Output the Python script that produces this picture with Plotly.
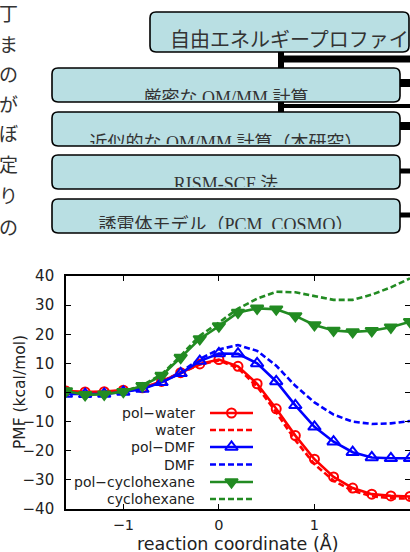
import plotly.graph_objects as go

# ---------------- data ----------------
x_coord = [-1.6, -1.4, -1.2, -1.0, -0.8, -0.6, -0.4, -0.2, 0.0, 0.2,
           0.4, 0.6, 0.8, 1.0, 1.2, 1.4, 1.6, 1.8, 2.0]
pol_water = [0.5, 0.2, 0.3, 0.8, 1.6, 3.8, 6.8, 9.8, 11.3, 9.0,
             3.0, -5.6, -14.8, -22.9, -29.0, -32.8, -34.9, -35.5, -35.7]
water = [0.3, 0.0, 0.2, 0.6, 1.4, 3.6, 6.6, 9.6, 11.0, 8.4,
         2.0, -6.8, -16.4, -24.6, -30.3, -33.7, -35.6, -36.3, -36.4]
pol_dmf = [-0.5, -0.6, -0.5, 0.2, 1.2, 3.5, 6.6, 10.8, 13.4, 13.3,
           10.0, 3.8, -4.4, -11.8, -16.9, -20.5, -22.3, -22.6, -22.6]
dmf = [-0.3, -0.4, -0.3, 0.3, 1.4, 3.7, 7.0, 11.5, 14.8, 16.3,
       14.3, 9.2, 2.3, -3.4, -7.6, -10.0, -10.8, -10.6, -9.8]
pol_cyclohexane = [0.5, -0.8, -0.6, 0.3, 2.3, 5.8, 12.0, 18.4, 22.8, 27.5,
                   28.9, 28.6, 26.3, 23.2, 21.3, 20.8, 21.2, 22.4, 24.3]
cyclohexane = [0.3, -0.5, -0.4, 0.4, 2.5, 6.2, 12.6, 19.5, 24.0, 28.8,
               32.2, 34.6, 34.4, 33.0, 31.8, 31.8, 33.6, 36.1, 39.2]

series_names = ["pol\u2212water", "water", "pol\u2212DMF", "DMF",
                "pol\u2212cyclohexane", "cyclohexane"]
y_ticks = [-40, -30, -20, -10, 0, 10, 20, 30, 40]
x_ticks = [-1, 0, 1, 2]

x_title = "reaction coordinate (Å)"
y_title = "PMF (kcal/mol)"

box_labels = ["自由エネルギープロファイ",
              "厳密な QM/MM 計算",
              "近似的な QM/MM 計算（本研究）",
              "RISM-SCF 法",
              "誘電体モデル（PCM, COSMO）"]
side_chars = ["丁", "ま", "の", "が", "ぼ", "定", "り", "の"]

# ---------------- styling / layout ----------------
W, H = 410, 552
RED, BLUE, GREEN = "rgb(255,0,0)", "rgb(0,0,255)", "rgb(34,139,34)"
BOXFILL = "#b9dfe3"
DASH = "6px,3px"
LW = 2.6
TXT = "#222222"
SANS = "DejaVu Sans, sans-serif"
JP = "Liberation Serif, Noto Sans CJK JP, serif"

styles = [
    dict(color=RED, dash="solid", symbol="circle-open", size=9),
    dict(color=RED, dash=DASH, symbol=None, size=0),
    dict(color=BLUE, dash="solid", symbol="triangle-up-open", size=11),
    dict(color=BLUE, dash=DASH, symbol=None, size=0),
    dict(color=GREEN, dash="solid", symbol="triangle-down", size=11),
    dict(color=GREEN, dash=DASH, symbol=None, size=0),
]
series = [pol_water, water, pol_dmf, dmf, pol_cyclohexane, cyclohexane]

fig = go.Figure()

# main data (dashed first, then solid on top)
order = [1, 3, 5, 0, 2, 4]
for i in order:
    st = styles[i]
    if st["symbol"]:
        fig.add_trace(go.Scatter(
            x=x_coord, y=series[i], mode="lines+markers", name=series_names[i],
            line=dict(color=st["color"], width=LW, dash=st["dash"]),
            marker=dict(symbol=st["symbol"], size=st["size"], color=st["color"],
                        line=dict(color=st["color"], width=2)),
            showlegend=False, xaxis="x", yaxis="y"))
    else:
        fig.add_trace(go.Scatter(
            x=x_coord, y=series[i], mode="lines", name=series_names[i],
            line=dict(color=st["color"], width=LW, dash=st["dash"]),
            showlegend=False, xaxis="x", yaxis="y"))

# helper trace so the right-side tick axis is drawn
fig.add_trace(go.Scatter(x=[None], y=[None], xaxis="x", yaxis="y3",
                         showlegend=False, hoverinfo="skip"))

# ---- custom legend (text left, key on right) in pixel overlay axes ----
leg_y = [413, 430, 447, 464.5, 482, 499]
leg_x0, leg_x1, leg_text_x = 210, 253, 197
annotations = []
for i, name in enumerate(series_names):
    st = styles[i]
    fig.add_trace(go.Scatter(
        x=[leg_x0, leg_x1], y=[leg_y[i], leg_y[i]], mode="lines",
        line=dict(color=st["color"], width=LW, dash=st["dash"]),
        showlegend=False, hoverinfo="skip", xaxis="x2", yaxis="y2",
        cliponaxis=False))
    if st["symbol"]:
        fig.add_trace(go.Scatter(
            x=[(leg_x0 + leg_x1) / 2], y=[leg_y[i]], mode="markers",
            marker=dict(symbol=st["symbol"], size=st["size"], color=st["color"],
                        line=dict(color=st["color"], width=2)),
            showlegend=False, hoverinfo="skip", xaxis="x2", yaxis="y2",
            cliponaxis=False))
    annotations.append(dict(
        x=leg_text_x / W, y=1 - leg_y[i] / H, xref="paper", yref="paper",
        text=name, showarrow=False, xanchor="right", yanchor="middle",
        font=dict(family=SANS, size=14, color=TXT)))

# ---- diagram boxes ----
boxes = [(150, 12, 409, 52), (52, 68, 400, 102), (52, 112, 400, 146),
         (52, 155, 400, 189), (52, 199, 400, 233)]
text_pos = [(170, 42, "middle right"), (226, 99, "middle center"),
            (226, 144, "middle center"), (226, 185, "middle center"),
            (226, 226, "middle center")]
clip_y = [None, 100, 144, 187, 229]
next_top = [None, 112, 155, 199, 246]
R = 6


def rrect(x0, y0, x1, y1, r):
    return (f"M {x0+r},{y0} L {x1-r},{y0} Q {x1},{y0} {x1},{y0+r} "
            f"L {x1},{y1-r} Q {x1},{y1} {x1-r},{y1} L {x0+r},{y1} "
            f"Q {x0},{y1} {x0},{y1-r} L {x0},{y0+r} Q {x0},{y0} {x0+r},{y0} Z")


shapes = []
for b in boxes:
    shapes.append(dict(type="path", path=rrect(*b, R), xref="x2", yref="y2",
                       fillcolor=BOXFILL, line=dict(width=0), layer="below"))

for i, lab in enumerate(box_labels):
    tx, ty, tp = text_pos[i]
    fig.add_trace(go.Scatter(
        x=[tx], y=[ty], mode="text", text=[lab], textposition=tp,
        textfont=dict(family=JP, size=20 if i == 0 else 18, color="#333333"),
        showlegend=False, hoverinfo="skip", xaxis="x2", yaxis="y2",
        cliponaxis=False))

# clipping covers
for i, b in enumerate(boxes):
    if clip_y[i] is None:
        continue
    x0, y0, x1, y1 = b
    shapes.append(dict(type="rect", x0=x0 + 8, x1=x1 - 8, y0=clip_y[i], y1=y1,
                       xref="x2", yref="y2", fillcolor=BOXFILL,
                       line=dict(width=0), layer="above"))
    shapes.append(dict(type="rect", x0=x0 - 3, x1=x1 + 3, y0=y1, y1=next_top[i],
                       xref="x2", yref="y2", fillcolor="white",
                       line=dict(width=0), layer="above"))
# outlines
for b in boxes:
    shapes.append(dict(type="path", path=rrect(*b, R), xref="x2", yref="y2",
                       fillcolor="rgba(0,0,0,0)",
                       line=dict(color="black", width=1.6), layer="above"))

# connectors
conn = [
    (281, 52, 281, 68, 6), (281, 102, 281, 112, 6),
    (278, 59, 412, 59, 7), (278, 106, 412, 106, 4),
    (400, 83, 412, 83, 8), (400, 126, 412, 126, 8),
    (400, 171, 412, 171, 5), (400, 215, 412, 215, 5),
]
for (a, b_, c, d, w) in conn:
    shapes.append(dict(type="line", x0=a, y0=b_, x1=c, y1=d, xref="x2",
                       yref="y2", line=dict(color="black", width=w),
                       layer="above"))

# left vertical text column
side_y = [13, 43, 73, 103, 133, 163, 194, 226]
for ch, sy in zip(side_chars, side_y):
    annotations.append(dict(x=8 / W, y=1 - sy / H, xref="paper", yref="paper",
                            text=ch, showarrow=False, xanchor="center",
                            yanchor="middle",
                            font=dict(family="Noto Sans CJK JP", size=19,
                                      color="#333333")))

# axis titles
annotations.append(dict(x=20 / W, y=1 - 392 / H, xref="paper", yref="paper",
                        text=y_title, showarrow=False, textangle=-90,
                        xanchor="center", yanchor="middle",
                        font=dict(family=SANS, size=15.5, color=TXT)))
annotations.append(dict(x=238 / W, y=1 - 543 / H, xref="paper", yref="paper",
                        text=x_title, showarrow=False, xanchor="center",
                        yanchor="middle",
                        font=dict(family=SANS, size=17.5, color=TXT)))

PLOT_L, PLOT_T, PLOT_B = 66, 276, 509

fig.update_layout(
    width=W, height=H,
    margin=dict(l=0, r=0, t=0, b=0, pad=0, autoexpand=False),
    paper_bgcolor="white", plot_bgcolor="rgba(0,0,0,0)",
    showlegend=False,
    xaxis=dict(domain=[PLOT_L / W, 1.0], range=[-1.6, 2.0], tickvals=x_ticks,
               ticks="inside", ticklen=5, tickwidth=1.2, tickcolor="black",
               showline=True, linecolor="black", linewidth=1.6,
               mirror="ticks", showgrid=False, zeroline=False,
               tickfont=dict(family=SANS, size=14.5, color=TXT),
               ticklabelstandoff=2, anchor="y", automargin=False),
    yaxis=dict(domain=[1 - PLOT_B / H, 1 - PLOT_T / H], range=[-40, 40],
               tickvals=y_ticks, ticks="inside", ticklen=5, tickwidth=1.2,
               tickcolor="black", showline=True, linecolor="black",
               linewidth=1.6, showgrid=False, zeroline=False,
               tickfont=dict(family=SANS, size=15, color=TXT),
               ticklabelstandoff=7, anchor="x", automargin=False),
    yaxis3=dict(overlaying="y", side="right", range=[-40, 40], tickvals=y_ticks,
                ticks="inside", ticklen=5, tickwidth=1.2, tickcolor="black",
                showticklabels=False, showline=False, showgrid=False,
                zeroline=False, anchor="x", automargin=False),
    xaxis2=dict(domain=[0, 1], range=[0, W], visible=False, anchor="y2",
                fixedrange=True, automargin=False),
    yaxis2=dict(domain=[0, 1], range=[H, 0], visible=False, anchor="x2",
                fixedrange=True, automargin=False),
    shapes=shapes, annotations=annotations,
)

fig.write_html(
    "out.html",
    config=dict(displayModeBar=False),
    post_script=("document.body.style.margin='0px';"
                 "document.body.style.padding='0px';"
                 "document.body.style.overflow='hidden';"),
)
